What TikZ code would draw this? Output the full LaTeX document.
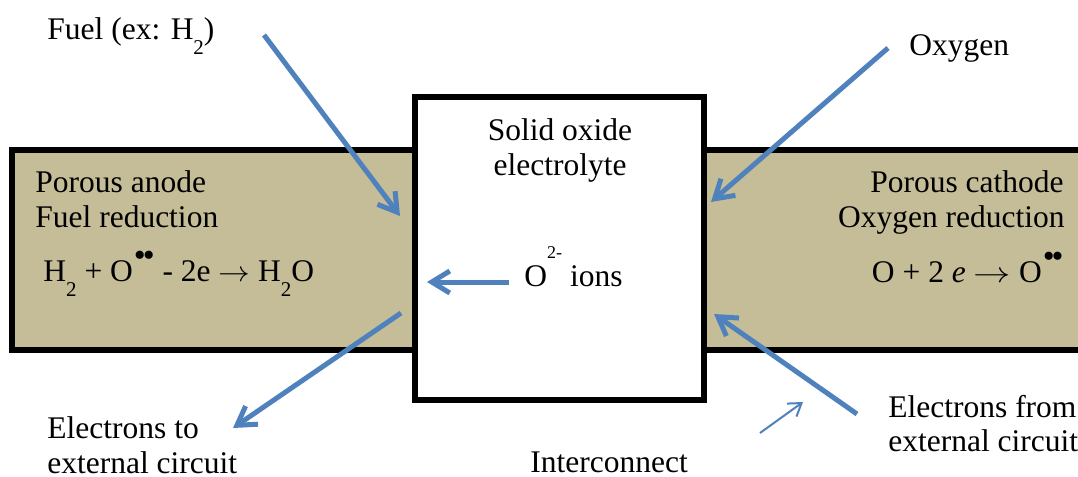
\documentclass[tikz,border=0pt]{standalone}
\usepackage{fontspec}
\usepackage{graphicx}
\setmainfont{Liberation Serif}
\usetikzlibrary{arrows.meta}
\definecolor{tanfill}{HTML}{C4BD97}
\definecolor{arrowblue}{HTML}{4F81BD}
\newcommand\subtwo{\raisebox{-7.5pt}{\fontsize{10.5}{10}\selectfont 2}}
\newcommand\dotpair{\raisebox{7.5pt}{\fontsize{17}{17}\selectfont\kern0.5pt\textbullet\kern-1.5pt\textbullet}}
\newcommand\reactarrow[1]{\scalebox{#1}[1]{$\rightarrow$}}
\begin{document}
\begin{tikzpicture}[x={(0.5pt,0pt)},y={(0pt,-0.5pt)},
  lbl/.style={inner sep=0pt, font=\fontsize{15.75}{17}\selectfont},
  layer/.style={draw=black, line width=3pt, fill=tanfill},
  electro/.style={draw=black, line width=3pt, fill=white},
  bigarrow/.style={draw=arrowblue, line width=2.5pt, -{Straight Barb[length=9pt,width=11pt]}},
  thinarrow/.style={draw=arrowblue, line width=1pt, -{Straight Barb[length=6pt,width=8pt]}}]
\useasboundingbox (0,0) rectangle (1078,477);
\clip (0,0) rectangle (1078,477);
% layers
\path[layer] (12,150) rectangle (415,350);
\path[layer] (704,150) rectangle (1100,350);
\path[electro] (415,97) rectangle (704,400);
% labels
\node[lbl, anchor=base west] (fuel) at (47,39) {Fuel (ex: H\subtwo)};
\node[lbl, anchor=base west] (oxygen) at (909,55) {Oxygen};
\node[lbl, anchor=base] (solid) at (560,140) {Solid oxide};
\node[lbl, anchor=base] (electrolyte) at (560,175) {electrolyte};
\node[lbl, anchor=base west] (anode) at (35,192) {Porous anode};
\node[lbl, anchor=base west] (fuelred) at (35,227) {Fuel reduction};
\node[lbl, anchor=base west] (anodeeq) at (43,281) {H\subtwo{} + O\dotpair{} - 2e \reactarrow{1.1} H\subtwo O};
\node[lbl, anchor=base east] (cathode) at (1064,192) {Porous cathode};
\node[lbl, anchor=base east] (oxred) at (1065,227) {Oxygen reduction};
\node[lbl, anchor=base east] (cathodeeq) at (1064,282) {O + 2 \textit{e} \reactarrow{1.3} O\dotpair};
\node[lbl, anchor=base west] (ions) at (524,286) {O\raisebox{14pt}{\fontsize{9}{9}\selectfont 2-}\hspace{4pt}ions};
\node[lbl, anchor=base west] (eto) at (47,438) {Electrons to};
\node[lbl, anchor=base west] (etoext) at (47,473) {external circuit};
\node[lbl, anchor=base west] (efrom) at (888,417) {Electrons from};
\node[lbl, anchor=base west] (efromext) at (888,451) {external circuit};
\node[lbl, anchor=base west] (inter) at (530,472) {Interconnect};
% arrow end points
\coordinate (fuelS) at (264,35);
\coordinate (fuelT) at (400,216);
\coordinate (oxS) at (888,48);
\coordinate (oxT) at (711,202);
\coordinate (ionS) at (509,282);
\coordinate (ionT) at (427,282);
\coordinate (etoS) at (401,313);
\coordinate (etoT) at (233,428);
\coordinate (efS) at (857,414);
\coordinate (efT) at (714,314);
\coordinate (thinS) at (760,433);
\coordinate (thinT) at (803,402);
% arrows
\draw[bigarrow] (fuelS) -- (fuelT);
\draw[bigarrow] (oxS) -- (oxT);
\draw[bigarrow] (ionS) -- (ionT);
\draw[bigarrow] (etoS) -- (etoT);
\draw[bigarrow] (efS) -- (efT);
\draw[thinarrow] (thinS) -- (thinT);
\end{tikzpicture}
\end{document}
